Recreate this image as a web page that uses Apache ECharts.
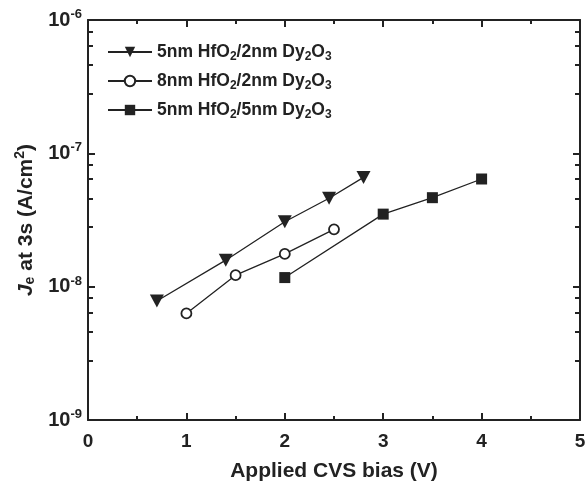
<!DOCTYPE html>
<html><head><meta charset="utf-8">
<script src="https://cdn.jsdelivr.net/npm/echarts@6/dist/echarts.min.js"></script>
<style>html,body{margin:0;padding:0;background:#fff}#c{width:585px;height:485px}</style>
</head><body><div id="c"></div>
<script>
const seriesNames = ['5nm HfO2/2nm Dy2O3', '8nm HfO2/2nm Dy2O3', '5nm HfO2/5nm Dy2O3'];
const xA = [0.7, 1.4, 2.0, 2.45, 2.8];
const yA = [7.8e-9, 1.58e-8, 3.07e-8, 4.6e-8, 6.6e-8];
const xB = [1.0, 1.5, 2.0, 2.5];
const yB = [6.3e-9, 1.22e-8, 1.76e-8, 2.69e-8];
const xC = [2.0, 3.0, 3.5, 4.0];
const yC = [1.17e-8, 3.5e-8, 4.65e-8, 6.42e-8];
const xTicks = [0, 1, 2, 3, 4, 5];

const C = '#222';
const FF = 'Liberation Sans, Arial, sans-serif';
const pair = (xs, ys) => xs.map((x, i) => [x, ys[i]]);

const legendRich = {
  n: {fontFamily: FF, fontWeight: 'bold', fontSize: 17.5, color: C},
  s: {fontFamily: FF, fontWeight: 'bold', fontSize: 12, color: C, padding: [10, 0, 0, 0]}
};
function fmtLegend(name) {
  return '{n|' + name.replace(/([A-Za-z])(\d)/g, '$1}{s|$2}{n|') + '}';
}

const axisX = (pos, labels) => ({
  type: 'value', position: pos, min: 0, max: 5, interval: 1,
  axisLine: {show: true, onZero: false, lineStyle: {color: C, width: 2}},
  axisTick: {show: true, inside: true, length: 7, lineStyle: {color: C, width: 2}},
  minorTick: {show: true, splitNumber: 2, length: 4, lineStyle: {color: C, width: 2}},
  splitLine: {show: false},
  axisLabel: labels ? {show: true, margin: 12, fontFamily: FF, fontWeight: 'bold', fontSize: 19, color: C,
    formatter: v => xTicks.includes(v) ? String(v) : ''} : {show: false},
  name: labels ? 'Applied CVS bias (V)' : '',
  nameLocation: 'middle', nameGap: 41,
  nameTextStyle: {fontFamily: FF, fontWeight: 'bold', fontSize: 21, color: C}
});
const axisY = (pos, labels) => ({
  type: 'log', logBase: 10, position: pos, min: 1e-9, max: 1e-6,
  axisLine: {show: true, onZero: false, lineStyle: {color: C, width: 2}},
  axisTick: {show: true, inside: true, length: 7, lineStyle: {color: C, width: 2}},
  minorTick: {show: true, splitNumber: 5, length: 5, lineStyle: {color: C, width: 2}},
  splitLine: {show: false},
  axisLabel: labels ? {show: true, margin: 6,
    formatter: v => '{b|10}{s|' + Math.round(Math.log10(v)) + '}',
    rich: {
      b: {fontFamily: FF, fontWeight: 'bold', fontSize: 20, color: C},
      s: {fontFamily: FF, fontWeight: 'bold', fontSize: 13, color: C, padding: [0, 0, 11, 0]}
    }} : {show: false},
  name: labels ? '{i|J}{sb|e}{n| at 3s (A/cm}{sp|2}{n|)}' : '',
  nameLocation: 'middle', nameGap: 48, nameRotate: 90,
  nameTextStyle: {
    rich: {
      i: {fontFamily: FF, fontWeight: 'bold', fontStyle: 'italic', fontSize: 21, color: C},
      n: {fontFamily: FF, fontWeight: 'bold', fontSize: 21, color: C},
      sb: {fontFamily: FF, fontWeight: 'bold', fontSize: 14, color: C, padding: [9, 0, 0, 0]},
      sp: {fontFamily: FF, fontWeight: 'bold', fontSize: 14, color: C, padding: [0, 0, 12, 0]}
    }
  }
});

const mk = (i, xs, ys, symbol, size, fill) => ({
  name: seriesNames[i], type: 'line', xAxisIndex: 0, yAxisIndex: 0,
  data: pair(xs, ys), symbol: symbol, symbolSize: size,
  lineStyle: {color: C, width: 1.3},
  itemStyle: {color: fill, borderColor: C, borderWidth: fill === '#fff' ? 1.8 : 0},
  showAllSymbol: true, animation: false
});

const chart = echarts.init(document.getElementById('c'), null, {renderer: 'canvas'});
chart.setOption({
  backgroundColor: '#fff',
  animation: false,
  grid: {left: 88, right: 5, top: 20, bottom: 65, containLabel: false, outerBoundsMode: 'none'},
  xAxis: [axisX('bottom', true), axisX('top', false)],
  yAxis: [axisY('left', true), axisY('right', false)],
  legend: {
    left: 107, top: 43, padding: 0, orient: 'vertical', itemWidth: 44, itemHeight: 13, itemGap: 9,
    data: seriesNames,
    formatter: fmtLegend,
    textStyle: {rich: legendRich}
  },
  series: [
    mk(0, xA, yA, 'path://M0,0 L10,0 L5,9 Z', [14, 13], C),
    mk(1, xB, yB, 'circle', 10, '#fff'),
    mk(2, xC, yC, 'rect', 11, C)
  ]
});
</script></body></html>
